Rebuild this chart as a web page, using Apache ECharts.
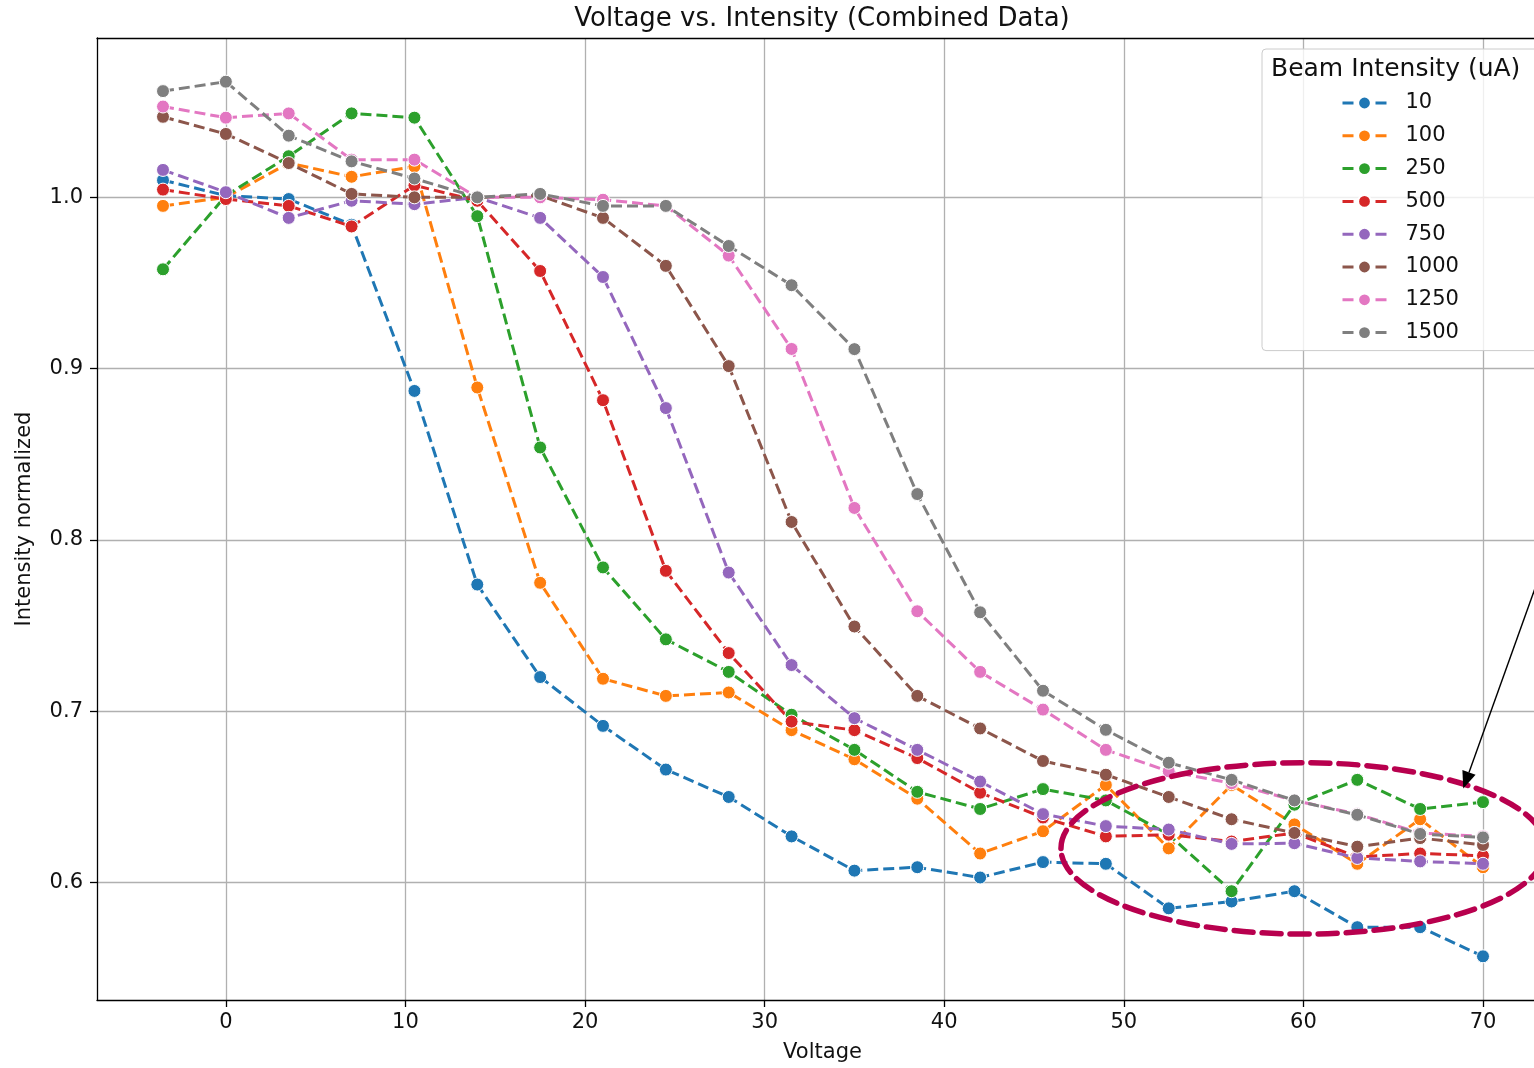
<!DOCTYPE html>
<html>
<head>
<meta charset="utf-8">
<title>Voltage vs. Intensity (Combined Data)</title>
<script src="https://cdn.jsdelivr.net/npm/echarts@6.0.0/dist/echarts.min.js"></script>
<style>
  html, body { margin: 0; padding: 0; background: #fff; }
  #chart { width: 1534px; height: 1068px; }
</style>
</head>
<body>
<div id="chart"></div>
<script>
// x values (Voltage)
var voltage = [-3.5, 0, 3.5, 7, 10.5, 14, 17.5, 21, 24.5, 28, 31.5, 35, 38.5, 42, 45.5, 49, 52.5, 56, 59.5, 63, 66.5, 70];

// beam intensity groups (uA)
var beamNames = ['10', '100', '250', '500', '750', '1000', '1250', '1500'];

// normalized intensity per beam
var int10   = [1.010, 1.001, 0.999, 0.984, 0.887, 0.774, 0.720, 0.6915, 0.666, 0.650, 0.627, 0.607, 0.609, 0.603, 0.612, 0.611, 0.585, 0.589, 0.595, 0.574, 0.574, 0.557];
var int100  = [0.995, 1.000, 1.020, 1.012, 1.018, 0.889, 0.775, 0.719, 0.709, 0.711, 0.689, 0.672, 0.649, 0.617, 0.630, 0.657, 0.620, 0.657, 0.634, 0.611, 0.637, 0.609];
var int250  = [0.958, 1.001, 1.024, 1.049, 1.0465, 0.989, 0.854, 0.784, 0.742, 0.723, 0.698, 0.6775, 0.653, 0.643, 0.6546, 0.648, 0.628, 0.595, 0.6455, 0.660, 0.643, 0.647];
var int500  = [1.0045, 0.999, 0.995, 0.983, 1.007, 0.998, 0.957, 0.8816, 0.782, 0.734, 0.694, 0.689, 0.6727, 0.6525, 0.638, 0.627, 0.628, 0.624, 0.629, 0.615, 0.617, 0.6157];
var int750  = [1.016, 1.003, 0.988, 0.998, 0.996, 1.000, 0.988, 0.9535, 0.877, 0.781, 0.727, 0.696, 0.6775, 0.659, 0.640, 0.633, 0.631, 0.6226, 0.623, 0.6144, 0.6124, 0.611];
var int1000 = [1.047, 1.037, 1.020, 1.002, 1.000, 1.000, 1.001, 0.988, 0.960, 0.9015, 0.8105, 0.7495, 0.709, 0.690, 0.671, 0.663, 0.650, 0.637, 0.629, 0.621, 0.626, 0.622];
var int1250 = [1.053, 1.0465, 1.049, 1.022, 1.022, 1.000, 1.000, 0.9986, 0.995, 0.966, 0.9115, 0.8187, 0.7584, 0.723, 0.701, 0.6775, 0.665, 0.658, 0.648, 0.640, 0.629, 0.627];
var int1500 = [1.062, 1.0675, 1.036, 1.021, 1.011, 1.000, 1.002, 0.995, 0.995, 0.9716, 0.9487, 0.9114, 0.8268, 0.7578, 0.712, 0.6892, 0.670, 0.660, 0.648, 0.6396, 0.6284, 0.6264];

var allValues = [int10, int100, int250, int500, int750, int1000, int1250, int1500];

// tick positions
var xTicks = [0, 10, 20, 30, 40, 50, 60, 70];
var yTicks = [0.6, 0.7, 0.8, 0.9, 1.0];

// tab10 palette
var colors = ['#1f77b4', '#ff7f0e', '#2ca02c', '#d62728', '#9467bd', '#8c564b', '#e377c2', '#7f7f7f'];

var chart = echarts.init(document.getElementById('chart'));

var font = 'DejaVu Sans';

var series = beamNames.map(function (name, k) {
  return {
    name: name,
    type: 'line',
    data: voltage.map(function (x, i) { return [x, allValues[k][i]]; }),
    symbol: 'circle',
    symbolSize: 13,
    lineStyle: { color: colors[k], width: 3, type: [11, 5] },
    itemStyle: { color: colors[k], borderColor: '#fff', borderWidth: 1 },
    emphasis: { disabled: true },
    animation: false
  };
});

// only show labels on the round ticks, not on the axis ends
function tickFmt(step, digits) {
  return function (v) {
    var r = Math.round(v / step) * step;
    if (Math.abs(v - r) > step * 1e-6) return '';
    return r.toFixed(digits);
  };
}

// the plot box runs past the right edge of the picture (axes right edge at ~1549px)
var xMin = -7.175, xFullMax = 73.675, boxWidth = 1452, shownWidth = 1437;
var xMax = xMin + (xFullMax - xMin) * shownWidth / boxWidth;

var option = {
  backgroundColor: '#fff',
  animation: false,
  textStyle: { fontFamily: font },
  title: [
    {
      text: 'Voltage vs. Intensity (Combined Data)',
      left: 817, top: 1, textAlign: 'center',
      textStyle: { fontFamily: font, fontSize: 26, fontWeight: 'normal', color: '#111' }
    },
    {
      // legend title
      text: 'Beam Intensity (uA)',
      left: 1266, top: 52,
      textStyle: { fontFamily: font, fontSize: 25, fontWeight: 'normal', color: '#111' }
    }
  ],
  legend: {
    orient: 'vertical',
    left: 1262, top: 49,
    padding: [43, 220, 7, 79],
    itemWidth: 44, itemHeight: 16, itemGap: 10.8,
    backgroundColor: 'rgba(255,255,255,0.8)',
    borderColor: '#cccccc', borderWidth: 1, borderRadius: 4,
    selectedMode: false,
    lineStyle: { type: [11, 22], width: 3 },
    textStyle: { fontFamily: font, fontSize: 21, color: '#111', lineHeight: 22, padding: [0, 0, 0, 14] },
    data: beamNames
  },
  grid: {
    left: 97, top: 38, right: 0, bottom: 68,
    show: false
  },
  xAxis: [
    {
      type: 'value',
      min: xMin, max: xMax,
      minInterval: 10, maxInterval: 10,
      name: 'Voltage', nameLocation: 'middle', nameGap: 42,
      nameTextStyle: { fontFamily: font, fontSize: 21, color: '#111', padding: [0, 0, 0, 14] },
      axisLine: { show: true, onZero: false, lineStyle: { color: '#000', width: 1.3 } },
      axisTick: { show: true, length: 7, customValues: xTicks, lineStyle: { color: '#000', width: 1.3 } },
      axisLabel: { fontFamily: font, fontSize: 21, color: '#111', margin: 12, customValues: xTicks, formatter: tickFmt(10, 0) },
      splitLine: { show: true, lineStyle: { color: '#b0b0b0', width: 1.3 } }
    },
    {
      // top spine
      type: 'value', position: 'top',
      min: xMin, max: xMax,
      axisLine: { show: true, onZero: false, lineStyle: { color: '#000', width: 1.3 } },
      axisTick: { show: false },
      axisLabel: { show: false },
      splitLine: { show: false }
    }
  ],
  yAxis: {
    type: 'value',
    min: 0.5315, max: 1.093,
    minInterval: 0.1, maxInterval: 0.1,
    name: 'Intensity normalized', nameLocation: 'middle', nameGap: 62,
    nameTextStyle: { fontFamily: font, fontSize: 21, color: '#111' },
    axisLine: { show: true, onZero: false, lineStyle: { color: '#000', width: 1.3 } },
    axisTick: { show: true, length: 7, customValues: yTicks, lineStyle: { color: '#000', width: 1.3 } },
    axisLabel: { fontFamily: font, fontSize: 21, color: '#111', margin: 14, customValues: yTicks, formatter: tickFmt(0.1, 1) },
    splitLine: { show: true, lineStyle: { color: '#b0b0b0', width: 1.3 } }
  },
  series: series
};

chart.setOption(option);

// annotation: dashed ellipse around the tail and an arrow pointing at it
var ellCenter = [60, 0.62];
var ellHalf = [13.5, 0.05];
var c = chart.convertToPixel({ gridIndex: 0 }, ellCenter);
var e = chart.convertToPixel({ gridIndex: 0 }, [ellCenter[0] + ellHalf[0], ellCenter[1] + ellHalf[1]]);
var tip = chart.convertToPixel({ gridIndex: 0 }, [68.9, 0.655]);
var dir = [71, -198];
var len = Math.sqrt(dir[0] * dir[0] + dir[1] * dir[1]);
var ux = dir[0] / len, uy = dir[1] / len;
var headLen = 17, headHalf = 7;
var base = [tip[0] + ux * headLen, tip[1] + uy * headLen];

chart.setOption({
  graphic: [
    {
      type: 'ellipse', z: 100,
      shape: { cx: c[0], cy: c[1], rx: e[0] - c[0], ry: c[1] - e[1] },
      style: { fill: 'none', stroke: '#b8004e', lineWidth: 5.5, lineDash: [19, 9], lineCap: 'round' }
    },
    {
      type: 'line', z: 100,
      shape: { x1: base[0], y1: base[1], x2: tip[0] + ux * 400, y2: tip[1] + uy * 400 },
      style: { stroke: '#000', lineWidth: 1.4 }
    },
    {
      type: 'polygon', z: 100,
      shape: { points: [
        [tip[0], tip[1]],
        [base[0] - uy * headHalf, base[1] + ux * headHalf],
        [base[0] + uy * headHalf, base[1] - ux * headHalf]
      ] },
      style: { fill: '#000' }
    }
  ]
});

window.addEventListener('resize', chart.resize);
</script>
</body>
</html>
